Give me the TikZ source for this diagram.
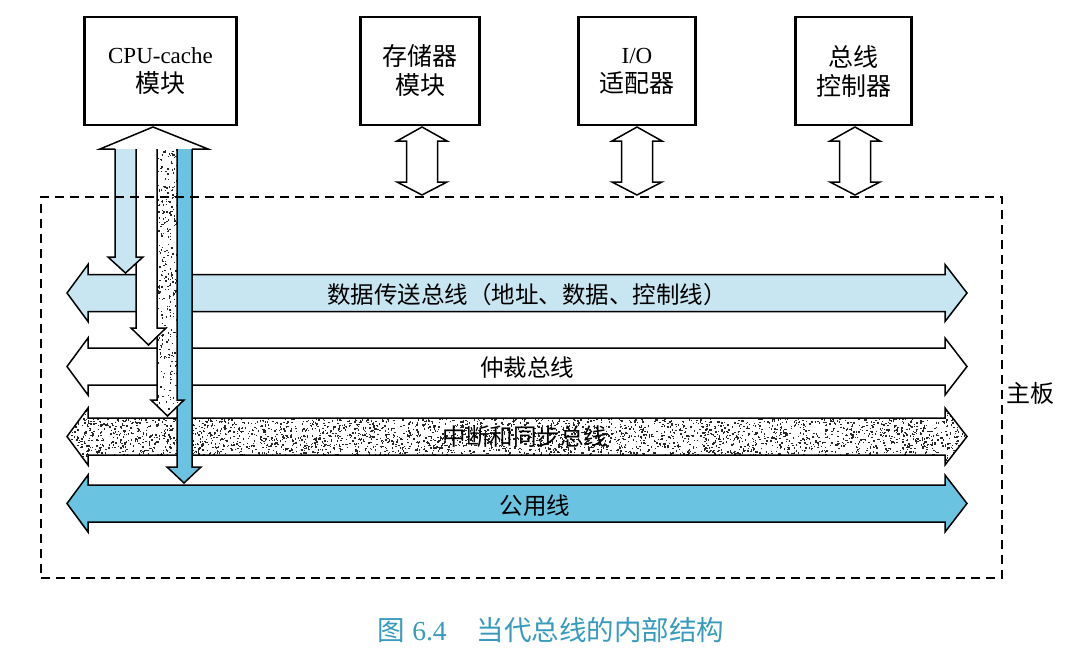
\documentclass[tikz,border=0pt]{standalone}
\usepackage{fontspec}
\setmainfont{Liberation Serif}
\newfontfamily\cjk{Noto Sans CJK SC}
\definecolor{lblue}{RGB}{200,230,241}
\definecolor{mblue}{RGB}{105,195,225}
\definecolor{capc}{RGB}{55,155,190}
\tikzset{
  boxst/.style={draw, line width=2.6pt, minimum height=108pt, align=center, inner sep=0pt, font=\fontsize{23}{29}\selectfont},
  blk/.style={line width=1.5pt, line join=miter},
  mbdash/.style={draw, line width=1.3pt, dash pattern=on 9pt off 6pt},
  buslbl/.style={font=\cjk\fontsize{23.5}{26}\selectfont},
}
\newcommand\bcjk{\cjk\fontsize{25}{29}\selectfont}
% horizontal double bus arrow at centre y #1, path options #2
\newcommand\hbus[2]{\path[#2] (67,#1) -- (88,{#1-28.5}) -- (88,{#1-18.5}) -- (945,{#1-18.5}) -- (945,{#1-28.5}) -- (967,#1) -- (945,{#1+28.5}) -- (945,{#1+18.5}) -- (88,{#1+18.5}) -- (88,{#1+28.5}) -- cycle;}
% vertical strip arrow: xl, xr, ytop, yheadbase, wingl, wingr, ytip, opts
\newcommand\vstrip[8]{\path[#8] (#1,#3) -- (#1,#4) -- (#5,#4) -- ({(#5+#6)/2},#7) -- (#6,#4) -- (#2,#4) -- (#2,#3);}
% small vertical double arrow at x #1
\newcommand\vdarrow[1]{\path[blk, draw, fill=white] (#1,127) -- ({#1+25},141) -- ({#1+15.5},141) -- ({#1+15.5},182) -- ({#1+25},182) -- (#1,195) -- ({#1-25},182) -- ({#1-15.5},182) -- ({#1-15.5},141) -- ({#1-25},141) -- cycle;}
\begin{document}
\begin{tikzpicture}[x=1pt,y=-1pt]
\useasboundingbox (0,0) rectangle (1071,661);
\fill[white] (0,0) rectangle (1071,661);

% module boxes
\node[boxst, minimum width=152pt] (cpu) at (160.5,71) {CPU-cache\\{\bcjk 模块}};
\node[boxst, minimum width=119pt] (mem) at (420,71) {\bcjk 存储器\\\bcjk 模块};
\node[boxst, minimum width=117pt] (io) at (637,71) {I/O\\{\bcjk 适配器}};
\node[boxst, minimum width=116pt] (ctl) at (853.5,71) {\bcjk 总线\\\bcjk 控制器};

% small connectors
\vdarrow{422}
\vdarrow{637}
\vdarrow{855}

% buses
\hbus{293}{blk, draw, fill=lblue}
\hbus{366.5}{blk, draw, fill=white}
\hbus{436.5}{fill=white}
\begin{scope}
  \hbus{436.5}{clip}
  \pgfmathsetseed{7}
  \foreach \i in {1,...,5200}{%
    \pgfmathsetmacro\xx{67+900*rnd}\pgfmathsetmacro\yy{407+59*rnd}%
    \fill[black!85] (\xx,\yy) rectangle ++(1.4,1.4);}
\end{scope}
\hbus{436.5}{blk, draw}
\hbus{503.5}{blk, draw, fill=mblue}

% CPU composite arrow head
\path[blk, draw, fill=white] (115,149) -- (100,149) -- (153,127) -- (208,149) -- (192,149);
% strips (drawn bottom-most first)
\vstrip{177}{192}{149}{467}{167}{201}{483}{blk, draw, fill=mblue}
\vstrip{157}{177}{149}{400}{151}{184}{416}{fill=white}
\begin{scope}
  \vstrip{157}{177}{149}{400}{151}{184}{416}{clip}
  \pgfmathsetseed{11}
  \foreach \i in {1,...,520}{%
    \pgfmathsetmacro\xx{150+35*rnd}\pgfmathsetmacro\yy{149+268*rnd}%
    \fill[black!85] (\xx,\yy) rectangle ++(1.4,1.4);}
\end{scope}
\vstrip{157}{177}{149}{400}{151}{184}{416}{blk, draw}
\vstrip{136}{157}{149}{328}{131}{166}{345}{blk, draw, fill=white}
\vstrip{115}{136}{149}{257}{108}{143}{273}{blk, draw, fill=lblue}

% bus labels
\node[buslbl] (l1) at (527,295) {数据传送总线（地址、数据、控制线）};
\node[buslbl] (l2) at (527,368) {仲裁总线};
\node[buslbl] (l3) at (525,437) {中断和同步总线};
\node[buslbl] (l4) at (535,506) {公用线};

% mainboard
\node[mbdash, minimum width=961pt, minimum height=381pt, inner sep=0pt] (board) at (521.5,387.5) {};
\node[font=\cjk\fontsize{24}{26}\selectfont] (mb) at (1030,393) {主板};

% caption
\node[text=capc, font=\fontsize{27.5}{30}\selectfont] (cap) at (551,630) {{\cjk 图} 6.4\hspace{30pt}{\cjk 当代总线的内部结构}};
\end{tikzpicture}
\end{document}
